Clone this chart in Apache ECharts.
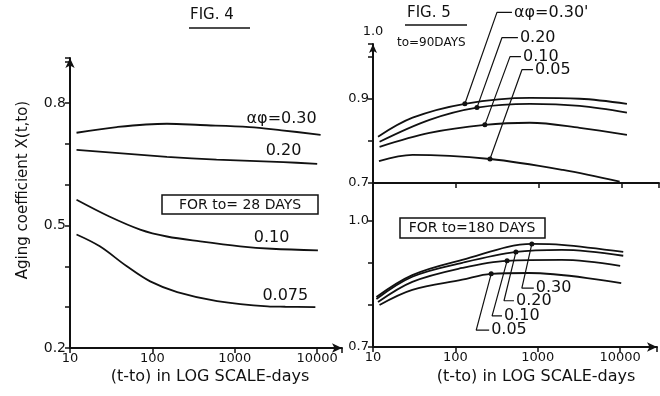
<!DOCTYPE html>
<html>
<head>
<meta charset="utf-8">
<script src="https://cdn.jsdelivr.net/npm/echarts@6/dist/echarts.min.js"></script>
<style>
  html, body { margin: 0; padding: 0; background: #fff; }
  #chart { width: 660px; height: 396px; }
</style>
</head>
<body>
<div id="chart"></div>
<script>
// Fig. 4 : t0 = 28 days
const fig4Days30 = [12, 37, 150, 380, 1500, 3700, 11000]
const fig4Phi30 = [0.727, 0.741, 0.749, 0.746, 0.741, 0.733, 0.722]
const fig4Days20 = [12, 150, 600, 3900, 10000]
const fig4Phi20 = [0.685, 0.668, 0.661, 0.655, 0.651]
const fig4Days10 = [12, 30, 71, 150, 380, 1160, 2800, 10200]
const fig4Phi10 = [0.563, 0.522, 0.49, 0.473, 0.461, 0.449, 0.443, 0.439]
const fig4Days075 = [12, 23, 49, 94, 200, 610, 2500, 4100, 9500]
const fig4Phi075 = [0.478, 0.449, 0.4, 0.363, 0.337, 0.315, 0.302, 0.301, 0.3]

// Fig. 5 top : t0 = 90 days
const topDays30 = [11.5, 30, 128, 780, 3100, 11500]
const topPhi30 = [0.81, 0.855, 0.888, 0.902, 0.9, 0.888]
const topDays20 = [12, 48, 179, 780, 3100, 11500]
const topPhi20 = [0.798, 0.85, 0.879, 0.888, 0.883, 0.867]
const topDays10 = [12, 48, 223, 780, 3100, 11500]
const topPhi10 = [0.786, 0.819, 0.838, 0.843, 0.831, 0.814]
const topDays05 = [11.8, 30, 257, 1950, 9400]
const topPhi05 = [0.752, 0.767, 0.757, 0.731, 0.703]

// Fig. 5 bottom : t0 = 180 days
const botDays30 = [11, 30, 121, 850, 1950, 10900]
const botPhi30 = [0.819, 0.871, 0.907, 0.945, 0.943, 0.926]
const botDays20 = [11, 30, 121, 545, 1950, 10900]
const botPhi20 = [0.814, 0.867, 0.9, 0.926, 0.931, 0.917]
const botDays10 = [11.5, 30, 121, 420, 1950, 10000]
const botPhi10 = [0.807, 0.855, 0.888, 0.905, 0.907, 0.893]
const botDays05 = [12, 30, 121, 270, 780, 10300]
const botPhi05 = [0.8, 0.836, 0.86, 0.874, 0.876, 0.852]

// leader lines (dot on curve -> elbow -> label)
const topLeadDays = [[128, 312, 473], [179, 358, 558], [223, 448, 607], [257, 624, 847]]
const topLeadVals = [[0.888, 1.105, 1.105], [0.879, 1.045, 1.045], [0.838, 1.0, 1.0], [0.757, 0.969, 0.969]]
const topLeadText = ['\u03b1\u03c6=0.30\'', '0.20', '0.10', '0.05']
const botLeadDays = [[847, 641, 895], [543, 389, 514], [424, 279, 368], [272, 179, 257]]
const botLeadVals = [[0.945, 0.84, 0.84], [0.926, 0.81, 0.81], [0.905, 0.774, 0.774], [0.874, 0.74, 0.74]]
const botLeadText = ['0.30', '0.20', '0.10', '0.05']

const fig4Labels = ['\u03b1\u03c6=0.30', '0.20', '0.10', '0.075']

const FONT = 'DejaVu Sans'
const INK = '#111'

function pairs(xs, ys) {
  return xs.map((x, i) => [x, ys[i]])
}

function curve(xi, days, vals, label, labelAt) {
  const data = pairs(days, vals)
  if (label) {
    data[labelAt] = {
      value: data[labelAt],
      label: { show: true, position: 'top', distance: 3, formatter: label,
        color: INK, fontFamily: FONT, fontSize: 16 }
    }
  }
  return {
    type: 'line', xAxisIndex: xi, yAxisIndex: xi, data: data,
    smooth: 0.35, symbol: 'circle', symbolSize: 0, showSymbol: true, silent: true,
    itemStyle: { color: INK },
    lineStyle: { color: INK, width: 1.8 }
  }
}

function leader(xi, days, vals, text) {
  const data = pairs(days, vals).map((p, i) => ({ value: p, symbolSize: i === 0 ? 5 : 0 }))
  data[2].label = { show: true, position: 'right', distance: 2, formatter: text,
    color: INK, fontFamily: FONT, fontSize: 16 }
  return {
    type: 'line', xAxisIndex: xi, yAxisIndex: xi, data: data, clip: false,
    symbol: 'circle', itemStyle: { color: INK }, silent: true,
    lineStyle: { color: INK, width: 1.2 }
  }
}

function powLabel(v) {
  const l = Math.log10(v)
  return Math.abs(l - Math.round(l)) < 1e-6 ? String(Math.round(v)) : ''
}

function pickLabel(keep) {
  return function (v) {
    for (const k of keep) {
      if (Math.abs(v - k) < 1e-6) return k.toFixed(1)
    }
    return ''
  }
}

const axisLine = { lineStyle: { color: INK, width: 2 } }

const chart = echarts.init(document.getElementById('chart'))
const series = [
  curve(0, fig4Days30, fig4Phi30, fig4Labels[0], 5),
  curve(0, fig4Days20, fig4Phi20, fig4Labels[1], 3),
  curve(0, fig4Days10, fig4Phi10, fig4Labels[2], 6),
  curve(0, fig4Days075, fig4Phi075, fig4Labels[3], 7),
  curve(1, topDays30, topPhi30),
  curve(1, topDays20, topPhi20),
  curve(1, topDays10, topPhi10),
  curve(1, topDays05, topPhi05),
  curve(2, botDays30, botPhi30),
  curve(2, botDays20, botPhi20),
  curve(2, botDays10, botPhi10),
  curve(2, botDays05, botPhi05)
]
topLeadDays.forEach((d, i) => series.push(leader(1, d, topLeadVals[i], topLeadText[i])))
botLeadDays.forEach((d, i) => series.push(leader(2, d, botLeadVals[i], botLeadText[i])))

chart.setOption({
  animation: false,
  backgroundColor: '#fff',
  grid: [
    { left: 70, top: 58, width: 272, height: 290 },
    { left: 373, top: 44, width: 286, height: 139 },
    { left: 373, top: 183, width: 285, height: 164 }
  ],
  xAxis: [
    {
      gridIndex: 0, type: 'log', logBase: 10, min: 10, max: 20000,
      axisLine: Object.assign({ symbol: ['none', 'arrow'], symbolSize: [7, 10] }, axisLine),
      axisTick: { show: true, length: 5, lineStyle: { color: INK, width: 1.5 } },
      axisLabel: { formatter: powLabel, color: INK, fontFamily: FONT, fontSize: 13, margin: 4 },
      splitLine: { show: false }
    },
    {
      gridIndex: 1, type: 'log', logBase: 10, min: 10, max: 28000,
      axisLine: axisLine,
      axisTick: { show: true, length: 5, lineStyle: { color: INK, width: 1.5 } },
      axisLabel: { show: false },
      splitLine: { show: false }
    },
    {
      gridIndex: 2, type: 'log', logBase: 10, min: 10, max: 28000,
      axisLine: Object.assign({ symbol: ['none', 'arrow'], symbolSize: [7, 10] }, axisLine),
      axisTick: { show: true, length: 5, lineStyle: { color: INK, width: 1.5 } },
      axisLabel: { formatter: powLabel, color: INK, fontFamily: FONT, fontSize: 13, margin: 4 },
      splitLine: { show: false }
    }
  ],
  yAxis: [
    {
      gridIndex: 0, type: 'value', min: 0.2, max: 0.91, interval: 0.1,
      axisLine: Object.assign({ show: true, symbol: ['none', 'arrow'], symbolSize: [7, 10] }, axisLine),
      axisTick: { show: true, length: 5, lineStyle: { color: INK, width: 1.5 } },
      axisLabel: { formatter: pickLabel([0.2, 0.5, 0.8]), color: INK, fontFamily: FONT, fontSize: 14, margin: 4 },
      splitLine: { show: false }
    },
    {
      gridIndex: 1, type: 'value', min: 0.7, max: 1.03, interval: 0.1,
      name: '1.0', nameLocation: 'end', nameGap: 6,
      nameTextStyle: { color: INK, fontFamily: FONT, fontSize: 13, align: 'center', padding: [0, 0, 0, 0] },
      axisLine: Object.assign({ show: true, symbol: ['none', 'arrow'], symbolSize: [6, 9] }, axisLine),
      axisTick: { show: true, length: 5, lineStyle: { color: INK, width: 1.5 } },
      axisLabel: { formatter: pickLabel([0.7, 0.9]), color: INK, fontFamily: FONT, fontSize: 13, margin: 4 },
      splitLine: { show: false }
    },
    {
      gridIndex: 2, type: 'value', min: 0.7, max: 1.09, interval: 0.1,
      axisLine: Object.assign({ show: true }, axisLine),
      axisTick: { show: true, length: 5, lineStyle: { color: INK, width: 1.5 } },
      axisLabel: { formatter: pickLabel([0.7, 1.0]), color: INK, fontFamily: FONT, fontSize: 13, margin: 4 },
      splitLine: { show: false }
    }
  ],
  graphic: [
    { type: 'text', left: 190, top: 8, style: { text: 'FIG. 4', fill: INK, font: '15px "DejaVu Sans"' } },
    { type: 'line', shape: { x1: 189, y1: 28, x2: 250, y2: 28 }, style: { stroke: INK, lineWidth: 1.5 } },
    { type: 'text', left: 407, top: 6, style: { text: 'FIG. 5', fill: INK, font: '15px "DejaVu Sans"' } },
    { type: 'line', shape: { x1: 405, y1: 25, x2: 467, y2: 25 }, style: { stroke: INK, lineWidth: 1.5 } },
    { type: 'text', left: 397, top: 37, style: { text: 'to=90DAYS', fill: INK, font: '12px "DejaVu Sans"' } },
    { type: 'rect', shape: { x: 162, y: 195, width: 156, height: 19 }, style: { fill: '#fff', stroke: INK, lineWidth: 1.5 } },
    { type: 'text', x: 240, y: 205, style: { text: 'FOR to= 28 DAYS', fill: INK, font: '14px "DejaVu Sans"', align: 'center', verticalAlign: 'middle' } },
    { type: 'rect', shape: { x: 400, y: 218, width: 145, height: 20 }, style: { fill: '#fff', stroke: INK, lineWidth: 1.5 } },
    { type: 'text', x: 472, y: 228, style: { text: 'FOR to=180 DAYS', fill: INK, font: '14px "DejaVu Sans"', align: 'center', verticalAlign: 'middle' } },
    { type: 'text', x: 23, y: 190, rotation: Math.PI / 2, style: { text: 'Aging coefficient X(t,to)', fill: INK, font: '15px "DejaVu Sans"', align: 'center', verticalAlign: 'middle' } },
    { type: 'text', x: 210, y: 377, style: { text: '(t-to) in LOG SCALE-days', fill: INK, font: '16px "DejaVu Sans"', align: 'center', verticalAlign: 'middle' } },
    { type: 'text', x: 536, y: 377, style: { text: '(t-to) in LOG SCALE-days', fill: INK, font: '16px "DejaVu Sans"', align: 'center', verticalAlign: 'middle' } }
  ],
  series: series
})
</script>
</body>
</html>
